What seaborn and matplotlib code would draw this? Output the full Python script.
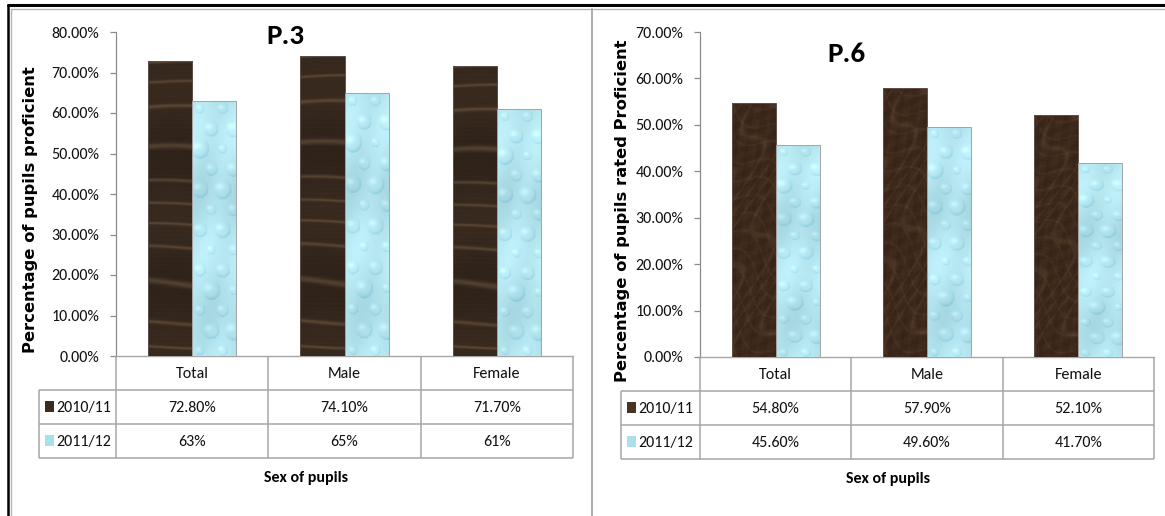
import numpy as np
import pandas as pd
import matplotlib
matplotlib.use("Agg")
import matplotlib.pyplot as plt
from matplotlib import font_manager
from matplotlib.lines import Line2D
from matplotlib.patches import Rectangle
import seaborn as sns

# ---- data -------------------------------------------------------------
categories = ["Total", "Male", "Female"]
years = ["2010/11", "2011/12"]

p3_2010 = [72.8, 74.1, 71.7]
p3_2011 = [63.0, 65.0, 61.0]
p3_decimals = [2, 0]          # how each table row prints its values

p6_2010 = [54.8, 57.9, 52.1]
p6_2011 = [45.6, 49.6, 41.7]
p6_decimals = [2, 2]

p3_ticks = [0, 10, 20, 30, 40, 50, 60, 70, 80]
p6_ticks = [0, 10, 20, 30, 40, 50, 60, 70]

p3_title = "P.3"
p6_title = "P.6"
p3_ylabel = "Percentage of pupils proficient"
p6_ylabel = "Percentage of pupils rated Proficient"
x_title = "Sex of pupils"

# ---- style ------------------------------------------------------------
sns.set_theme(style="white")
available = {f.name for f in font_manager.fontManager.ttflist}


def pick(*names):
    for n in names:
        if n in available:
            return n
    return "DejaVu Sans"


body_font = pick("Carlito", "Lato", "Open Sans")
title_font = pick("Liberation Sans Narrow", "Carlito", "Lato")
label_font = pick("DejaVu Sans")
plt.rcParams["font.family"] = [body_font, "DejaVu Sans"]

GRID = "#a6a6a6"
AXIS = "#8c8c8c"
DARK = "#3b2b20"
MARBLE = "#4a3323"
LIGHT = "#b3e4ef"
TXT = 11.5

W, H = 1165, 516
fig = plt.figure(figsize=(W / 100, H / 100), dpi=100)
fig.patch.set_facecolor("white")

# full-figure overlay in pixel units for frames and the data tables
ov = fig.add_axes([0, 0, 1, 1], zorder=0)
ov.set_xlim(0, W)
ov.set_ylim(H, 0)
ov.axis("off")
ov.patch.set_alpha(0)


def px_axes(x0, y0, x1, y1):
    return fig.add_axes([x0 / W, 1 - y1 / H, (x1 - x0) / W, (y1 - y0) / H], zorder=2)


# ---- bar textures -----------------------------------------------------
def wood_texture(h=330, w=48):
    yy, xx = np.mgrid[0:h, 0:w].astype(float)
    warp = 0.6 * np.sin(xx * 0.03 + yy * 0.009) + 2.2 * np.sin(yy * 0.037) \
        + 1.1 * np.sin(yy * 0.011 + 1.3)
    grain = np.sin(yy * 0.21 + warp)
    streak = ((grain + 1) / 2) ** 26
    fine = 0.5 + 0.5 * np.sin(yy * 1.3 + 0.3 * np.sin(xx * 0.1))
    band = 0.5 + 0.5 * np.sin(yy * 0.043 + 0.4 * np.sin(xx * 0.06))
    base = np.array([0x33, 0x26, 0x1c]) / 255
    lite = np.array([0x80, 0x66, 0x4b]) / 255
    img = base * (0.9 + 0.18 * band + 0.05 * fine)[..., None] \
        + (lite - base) * (0.45 * streak)[..., None]
    return np.clip(img, 0, 1)


def marble_texture(h=330, w=48):
    yy, xx = np.mgrid[0:h, 0:w].astype(float)
    v = np.sin(xx * 0.16 + yy * 0.06 + 3.0 * np.sin(yy * 0.045 + xx * 0.05))
    v2 = np.sin(xx * 0.09 - yy * 0.11 + 2.0 * np.sin(xx * 0.07 + yy * 0.02))
    vein = np.exp(-(v / 0.25) ** 2) * 0.5 + np.exp(-(v2 / 0.2) ** 2) * 0.35
    mott = 0.5 + 0.5 * np.sin(xx * 0.33 + yy * 0.21) * np.sin(yy * 0.17 - xx * 0.12)
    mott2 = 0.5 + 0.5 * np.sin(xx * 0.7 - yy * 0.5) * np.sin(yy * 0.63 + xx * 0.41)
    base = np.array([0x3c, 0x28, 0x1b]) / 255
    lite = np.array([0x7a, 0x5c, 0x42]) / 255
    img = base * (0.85 + 0.2 * mott + 0.1 * mott2)[..., None] \
        + (lite - base) * vein[..., None] * 0.45
    return np.clip(img, 0, 1)


def water_texture(h=330, w=48):
    yy, xx = np.mgrid[0:h, 0:w].astype(float)
    base = np.array([0xb4, 0xe5, 0xef]) / 255
    img = np.ones((h, w, 3)) * base
    shade = 0.03 * np.sin(yy * 0.04) + 0.02 * np.sin(xx * 0.15 + yy * 0.03)
    img = img + shade[..., None]
    k = 0
    for cy in range(10, h, 26):
        for cx in range(8 + (cy // 26 % 2) * 12, w + 12, 24):
            r = 5 + (k * 7 % 6)
            k += 1
            dx, dy = xx - cx, yy - cy
            d = np.sqrt(dx ** 2 + (dy * 0.75) ** 2) / r
            inside = d < 1
            rim = np.clip((d - 0.55) / 0.45, 0, 1) * inside
            dark = np.clip((dx + dy) / (2 * r) + 0.4, 0, 1)
            img[..., 0] -= 0.13 * rim * dark
            img[..., 1] -= 0.07 * rim * dark
            img[..., 2] -= 0.04 * rim * dark
            hl = np.exp(-(((dx + r * 0.3) ** 2 + (dy + r * 0.3) ** 2) / (0.2 * r * r))) * inside
            img += 0.08 * hl[..., None]
    return np.clip(img, 0, 1)


# ---- one chart panel ---------------------------------------------------
def draw_panel(x0, x1, y_top, y_zero, ticks, v_first, v_second, decimals,
               dark_color, dark_tex, title, title_xy, ylabel, ylabel_x,
               table_left, xtitle_x):
    ax = px_axes(x0, y_top, x1, y_zero)
    ax.patch.set_alpha(0)
    df = pd.DataFrame({
        "category": categories * 2,
        "year": [years[0]] * len(categories) + [years[1]] * len(categories),
        "value": list(v_first) + list(v_second),
    })
    sns.barplot(data=df, x="category", y="value", hue="year", order=categories,
                hue_order=years, palette=[dark_color, LIGHT], width=0.58,
                legend=False, ax=ax, linewidth=0)
    ymax = ticks[-1]

    for patch in list(ax.patches):
        bx, bw, bh = patch.get_x(), patch.get_width(), patch.get_height()
        if bh <= 0:
            continue
        fc = patch.get_facecolor()
        is_dark = fc[0] < 0.5
        tex = dark_tex() if is_dark else water_texture()
        im = ax.imshow(tex, extent=(bx, bx + bw, 0, bh), aspect="auto",
                       origin="upper", interpolation="bilinear", zorder=3)
        im.set_clip_path(patch)
        ax.add_patch(Rectangle((bx, 0), bw, bh, fill=False,
                               edgecolor="#a4a4a4" if not is_dark else "#5e5048",
                               lw=0.7, zorder=4))

    ax.set_aspect("auto")
    ax.set_xlim(-0.5, len(categories) - 0.5)
    ax.set_ylim(0, ymax)
    ax.set_xticks([])
    ax.set_yticks(ticks)
    ax.set_yticklabels([f"{t:.2f}%" for t in ticks], fontsize=TXT,
                       fontfamily=body_font, color="#111111")
    ax.tick_params(axis="y", length=4, width=0.9, color=AXIS, direction="out", pad=8,
                   left=True)
    ax.set_xlabel("")
    ax.set_ylabel("")
    for s in ("top", "right"):
        ax.spines[s].set_visible(False)
    ax.spines["left"].set_color(AXIS)
    ax.spines["left"].set_linewidth(0.9)
    ax.spines["bottom"].set_color(GRID)
    ax.spines["bottom"].set_linewidth(1.0)

    ov.text(title_xy[0], title_xy[1], title, fontsize=21, fontweight="bold",
            fontfamily=title_font, ha="center", va="center", color="black")
    ov.text(ylabel_x, (y_top + y_zero) / 2 + 16, ylabel, rotation=90, fontsize=11.8,
            fontweight="bold", fontfamily=label_font, ha="center", va="center",
            color="black")

    # data table under the axis
    row_h = 34
    col_w = (x1 - x0) / len(categories)
    ys = [y_zero + row_h * k for k in range(4)]
    lk = dict(color=GRID, lw=1.1, solid_capstyle="butt")
    for k in range(len(categories) + 1):
        xx = x0 + k * col_w
        ov.add_line(Line2D([xx, xx], [y_zero, ys[3]], **lk))
    ov.add_line(Line2D([table_left, table_left], [ys[1], ys[3]], **lk))
    for yy in ys[1:]:
        ov.add_line(Line2D([table_left, x1], [yy, yy], **lk))

    for i, c in enumerate(categories):
        ov.text(x0 + (i + 0.5) * col_w, y_zero + row_h / 2 + 1, c, fontsize=TXT,
                ha="center", va="center", color="#111111")
    rows = [v_first, v_second]
    key_colors = [dark_color, "#a9e0ec"]
    for r, (vals, dec) in enumerate(zip(rows, decimals)):
        yc = ys[r + 1] + row_h / 2
        for i, v in enumerate(vals):
            ov.text(x0 + (i + 0.5) * col_w, yc + 1, f"{v:.{dec}f}%", fontsize=TXT,
                    ha="center", va="center", color="#111111")
        ov.add_patch(Rectangle((table_left + 6, yc - 6), 9, 11,
                               facecolor=key_colors[r], edgecolor="none"))
        ov.text(table_left + 17, yc + 1, years[r], fontsize=TXT, ha="left",
                va="center", color="#111111")

    ov.text(xtitle_x, ys[3] + 20, x_title, fontsize=TXT, fontweight="bold",
            ha="center", va="center", color="black")
    return ax


draw_panel(116, 573, 32, 356, p3_ticks, p3_2010, p3_2011, p3_decimals,
           DARK, wood_texture, p3_title, (285, 36), p3_ylabel, 31, 39, 306)
draw_panel(700, 1154, 32, 357, p6_ticks, p6_2010, p6_2011, p6_decimals,
           MARBLE, marble_texture, p6_title, (846, 54), p6_ylabel, 622, 621, 888)

# ---- page frame ---------------------------------------------------------
ov.add_line(Line2D([8, W], [5, 5], color="black", lw=2.2))
ov.add_line(Line2D([8, 8], [5, H], color="black", lw=1.8))
ov.add_line(Line2D([11, W], [9, 9], color="#b4b4b4", lw=1.0))
ov.add_line(Line2D([11, 11], [9, H], color="#b4b4b4", lw=1.0))
ov.add_line(Line2D([592, 592], [9, H], color="#a0a0a0", lw=1.2))

fig.savefig("out.png", dpi=100)
